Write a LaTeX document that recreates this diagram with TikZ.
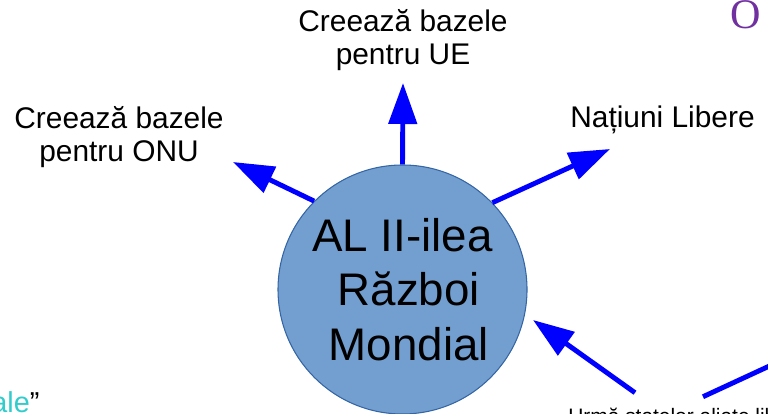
\documentclass[tikz,border=0pt]{standalone}
\usepackage{fontspec}
\setmainfont{Liberation Sans}
\newfontfamily\titlefont{Liberation Serif}
\usepackage{tikz}
\usetikzlibrary{arrows.meta, calc}

\definecolor{warfill}{RGB}{114,159,207}
\definecolor{wardraw}{RGB}{52,101,164}
\definecolor{arrblue}{RGB}{0,0,255}
\definecolor{titlepurple}{RGB}{112,48,160}
\definecolor{linkcyan}{RGB}{51,204,204}

\begin{document}
\begin{tikzpicture}[x=0.2mm, y=-0.2mm,
  war/.style={circle, draw=wardraw, line width=0.6pt, fill=warfill,
              minimum size=49.8mm, inner sep=0pt, align=center,
              font=\fontsize{26}{31}\selectfont},
  lbl/.style={inner sep=0pt, align=center, font=\fontsize{17}{18.7}\selectfont},
  arr/.style={-{Triangle[length=8.2mm, width=5.6mm]}, line width=2.8pt, arrblue}
]
  \useasboundingbox (0,0) rectangle (768,414);
  \clip (0,0) rectangle (768,414);

  \node[war] (war) at (402.5,289.5) {AL II-ilea\\~Război\\~Mondial};

  \node[lbl, anchor=north] (ue)  at (403,9)   {Creează bazele\\pentru UE};
  \node[lbl, anchor=north] (onu) at (119,106) {Creează bazele\\pentru ONU};
  \node[lbl, anchor=base west] (nat) at (570,128) {Națiuni Libere};

  \node[anchor=base west, inner sep=0pt, text=titlepurple,
        font=\titlefont\fontsize{24}{28}\selectfont] (ttl) at (730,29) {O};
  \node[anchor=base west, inner sep=0pt, font=\fontsize{11.9}{14}\selectfont]
        (urm) at (568,423) {Urmă statelor aliate libere};
  \node[anchor=base west, inner sep=0pt, font=\fontsize{16.4}{19}\selectfont]
        (ale) at (-9,412) {\textcolor{linkcyan}{ale}”};

  % arrow tips
  \coordinate (tue)  at (403,83);
  \coordinate (tonu) at (233,162);
  \coordinate (tnat) at (610,149);
  \coordinate (twar) at (533,320);
  \coordinate (off)  at (830,338);

  \draw[arr] (war.90)  -- (tue);
  \draw[arr] (war.135) -- (tonu);
  \draw[arr] (war.44)  -- (tnat);
  \draw[arr] ($(urm.north west)+(67,-14.5)$) -- (twar);
  \draw[arr, -] ($(urm.north west)+(135,-10.5)$) -- (off);
\end{tikzpicture}
\end{document}
